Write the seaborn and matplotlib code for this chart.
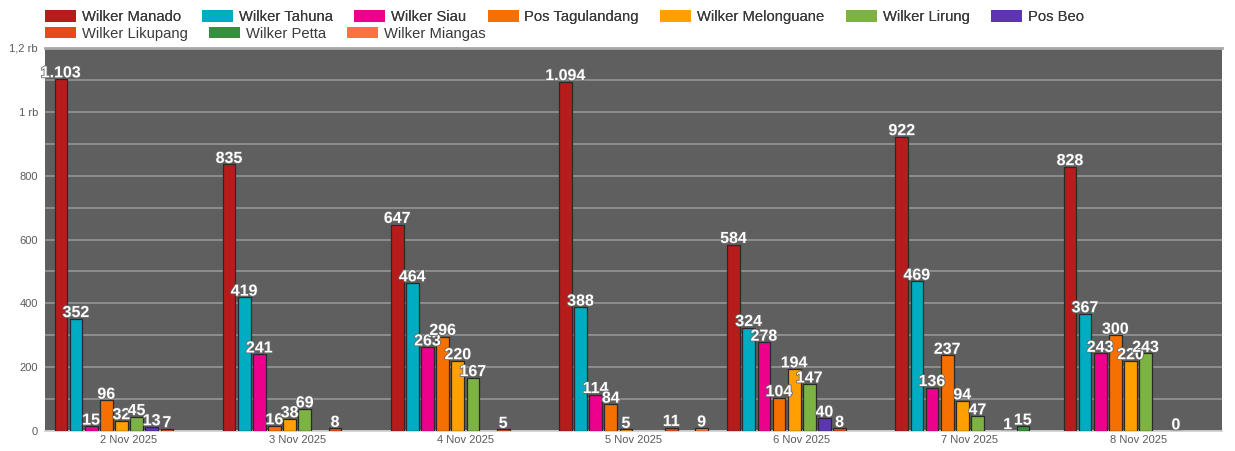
import numpy as np
import pandas as pd
import matplotlib
matplotlib.use("Agg")
import matplotlib.pyplot as plt
import matplotlib.patheffects as pe
from matplotlib.patches import Patch
from matplotlib.ticker import MultipleLocator, FixedLocator
import seaborn as sns

dates = ["2 Nov 2025", "3 Nov 2025", "4 Nov 2025", "5 Nov 2025",
         "6 Nov 2025", "7 Nov 2025", "8 Nov 2025"]

series = ["Wilker Manado", "Wilker Tahuna", "Wilker Siau", "Pos Tagulandang",
          "Wilker Melonguane", "Wilker Lirung", "Pos Beo", "Wilker Likupang",
          "Wilker Petta", "Wilker Miangas"]

nan = np.nan
manado      = [1103, 835, 647, 1094, 584, 922, 828]
tahuna      = [352, 419, 464, 388, 324, 469, 367]
siau        = [15, 241, 263, 114, 278, 136, 243]
tagulandang = [96, 16, 296, 84, 104, 237, 300]
melonguane  = [32, 38, 220, 5, 194, 94, 220]
lirung      = [45, 69, 167, nan, 147, 47, 243]
beo         = [13, nan, nan, nan, 40, nan, nan]
likupang    = [7, 8, 5, 11, 8, 1, 0]
petta       = [nan, nan, nan, nan, nan, 15, nan]
miangas     = [nan, nan, nan, 9, nan, nan, nan]

values = [manado, tahuna, siau, tagulandang, melonguane, lirung, beo,
          likupang, petta, miangas]

colors = ["#B71C1C", "#00ACC1", "#EC008C", "#F57000", "#FFA000",
          "#7CB342", "#5E35B1", "#E64A19", "#388E3C", "#FF7043"]

y_ticks = [0, 200, 400, 600, 800, 1000, 1200]
y_labels = ["0", "200", "400", "600", "800", "1 rb", "1,2 rb"]

rows = []
for name, vals in zip(series, values):
    for d, v in zip(dates, vals):
        rows.append({"tanggal": d, "wilker": name, "jumlah": v})
df = pd.DataFrame(rows).dropna()

sns.set_theme(style="white")
plt.rcParams["font.family"] = ["Liberation Sans", "DejaVu Sans"]

fig = plt.figure(figsize=(12.35, 4.51), dpi=100)
ax = fig.add_axes([0.0364, 0.0443, 0.9532, 0.8493])

sns.barplot(data=df, x="tanggal", y="jumlah", hue="wilker",
            order=dates, hue_order=series, palette=colors, saturation=1,
            width=0.9, gap=0.16, edgecolor="#2a2a2a", linewidth=0.9,
            errorbar=None, legend=False, ax=ax, zorder=3)

ax.set_facecolor("#5f5f5f")
ax.set_xlim(-0.5, len(dates) - 0.5)
ax.set_ylim(0, 1200)
ax.yaxis.set_major_locator(FixedLocator(y_ticks))
ax.set_yticklabels(y_labels)
ax.yaxis.set_minor_locator(MultipleLocator(100))
ax.grid(True, which="both", axis="y", color="#8e8e8e", linewidth=1.4, zorder=0)
ax.set_axisbelow(True)
ax.set_xlabel("")
ax.set_ylabel("")
ax.tick_params(axis="both", labelsize=8, colors="#5a5a5a", length=0, pad=5)
ax.tick_params(axis="x", pad=3)
for side in ["left", "right"]:
    ax.spines[side].set_visible(False)
ax.spines["top"].set_color("#a8a8a8")
ax.spines["top"].set_linewidth(2)
ax.spines["bottom"].set_color("#cfcfcf")

def fmt(v):
    return f"{int(round(v)):,}".replace(",", ".")

for cont in ax.containers:
    labels = [fmt(v) for v in cont.datavalues]
    txts = ax.bar_label(cont, labels=labels, padding=-1, fontsize=11.5,
                        fontweight="bold", color="white", zorder=5)
    for t in txts:
        t.set_path_effects([pe.withStroke(linewidth=1.2, foreground="#6a6a6a")])

handles = [Patch(facecolor=c, edgecolor="none") for c in colors]
legend_kw = dict(loc="center left", frameon=False, fontsize=10.6,
                 handlelength=2.1, handleheight=0.8, handletextpad=0.4,
                 columnspacing=1.45, labelcolor="#3a3a3a", borderaxespad=0,
                 borderpad=0)
leg1 = fig.legend(handles[:7], series[:7], ncol=7,
                  bbox_to_anchor=(0.0364, 0.962), **legend_kw)
leg2 = fig.legend(handles[7:], series[7:], ncol=3,
                  bbox_to_anchor=(0.0364, 0.925), **legend_kw)
fig.add_artist(leg1)

fig.savefig("out.png", dpi=100, facecolor="white")
